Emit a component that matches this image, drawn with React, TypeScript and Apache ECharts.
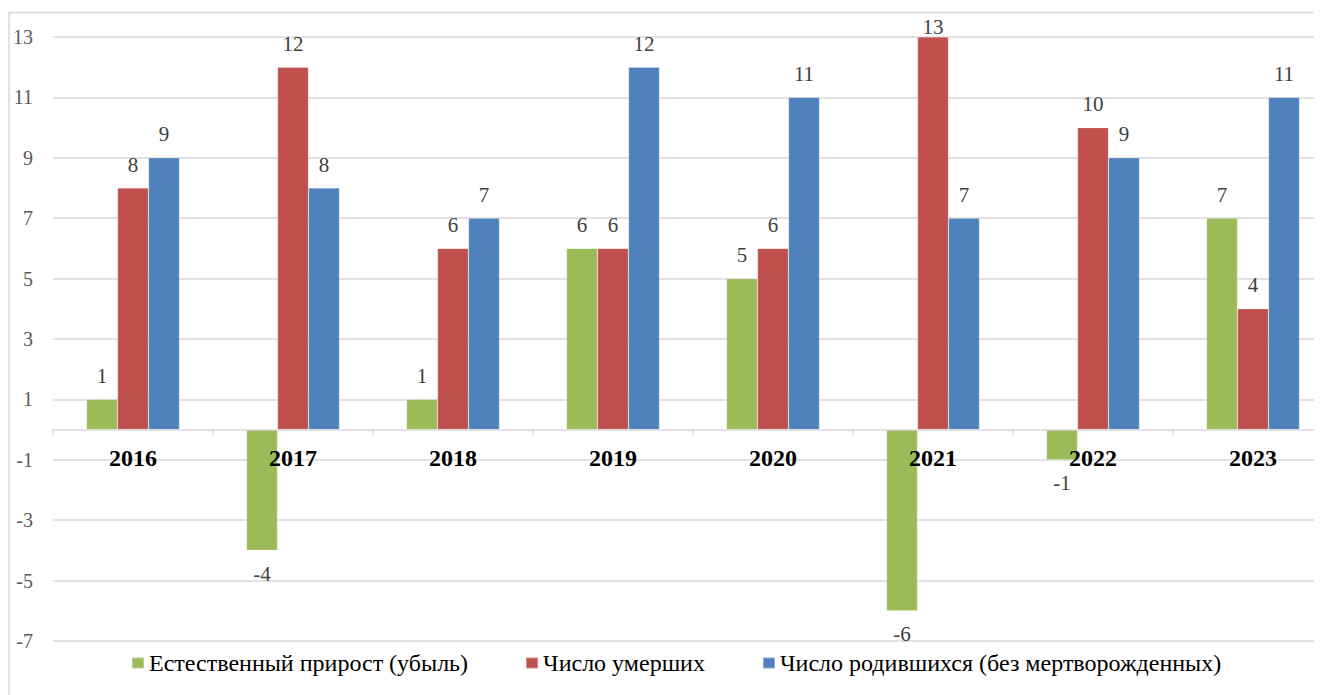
import React, { useEffect, useRef } from "react";
import * as echarts from "echarts";

const categories = ["2016", "2017", "2018", "2019", "2020", "2021", "2022", "2023"];
const naturalGrowth = [1, -4, 1, 6, 5, -6, -1, 7];
const deaths = [8, 12, 6, 6, 6, 13, 10, 4];
const births = [9, 8, 7, 12, 11, 7, 9, 11];
const seriesNames = [
  "Естественный прирост (убыль)",
  "Число умерших",
  "Число родившихся (без мертворожденных)",
];
const colors = ["#9BBB59", "#C0504D", "#4F81BD"];
const yMin = -7;
const yMax = 13;
const yStep = 2;

const FONT = "Liberation Serif";
const GRID_TOP = 29;
const GRID_BOTTOM = 54;
const CHART_H = 687;

function toData(values: number[]) {
  return values.map((v) => ({
    value: v,
    label: {
      position: v < 0 ? "bottom" : "top",
      distance: v > yMax - 1 ? 0 : 13,
    },
  }));
}

export default function App() {
  const ref = useRef<HTMLDivElement>(null);
  useEffect(() => {
    document.body.style.overflow = "hidden";
    const chart = echarts.init(ref.current!, null, { renderer: "svg" });
    const gridH = CHART_H - GRID_TOP - GRID_BOTTOM;
    const zeroFromBottom = ((0 - yMin) / (yMax - yMin)) * gridH;
    const mkSeries = (i: number, values: number[]) => ({
      name: seriesNames[i],
      type: "bar",
      barWidth: 31,
      barGap: "0%",
      itemStyle: { color: colors[i], borderColor: "rgba(255,255,255,0.35)", borderWidth: 0.6 },
      label: {
        show: true,
        fontFamily: FONT,
        fontSize: 21,
        color: "#404040",
      },
      data: toData(values),
    });
    chart.setOption({
      animation: false,
      backgroundColor: "#ffffff",
      textStyle: { fontFamily: FONT },
      graphic: [
        {
          type: "rect",
          shape: { x: 1, y: 4.5, width: 1500, height: 800 },
          style: { fill: "none", stroke: "#d9d9d9", lineWidth: 1.5 },
          silent: true,
          z: -1,
        },
      ],
      grid: { left: 45, right: 15, top: GRID_TOP, bottom: GRID_BOTTOM, containLabel: false },
      legend: {
        left: 123,
        top: 643,
        padding: 0,
        itemWidth: 12,
        itemHeight: 11,
        itemGap: 57,
        icon: "rect",
        textStyle: { fontFamily: FONT, fontSize: 24, color: "#000000" },
        data: seriesNames,
      },
      xAxis: {
        type: "category",
        data: categories,
        z: 10,
        axisLine: { onZero: true, lineStyle: { color: "#d9d9d9", width: 1.5 } },
        axisTick: { show: true, length: 6, alignWithLabel: false, lineStyle: { color: "#d9d9d9", width: 1.5 } },
        axisLabel: {
          fontFamily: FONT,
          fontSize: 24,
          fontWeight: "bold",
          color: "#000000",
          margin: 16 - zeroFromBottom,
        },
        splitLine: { show: false },
      },
      yAxis: {
        type: "value",
        min: yMin,
        max: yMax,
        interval: yStep,
        axisLine: { show: false },
        axisTick: { show: false },
        axisLabel: {
          fontFamily: FONT,
          fontSize: 20,
          color: "#595959",
          margin: 20,
        },
        splitLine: { lineStyle: { color: "#d9d9d9", width: 1.5 } },
      },
      series: [mkSeries(0, naturalGrowth), mkSeries(1, deaths), mkSeries(2, births)],
    });
    return () => chart.dispose();
  }, []);
  return (
    <div style={{ width: 1314, height: 687, overflow: "hidden", position: "relative" }}>
      <div ref={ref} style={{ width: 1340, height: CHART_H }} />
    </div>
  );
}
